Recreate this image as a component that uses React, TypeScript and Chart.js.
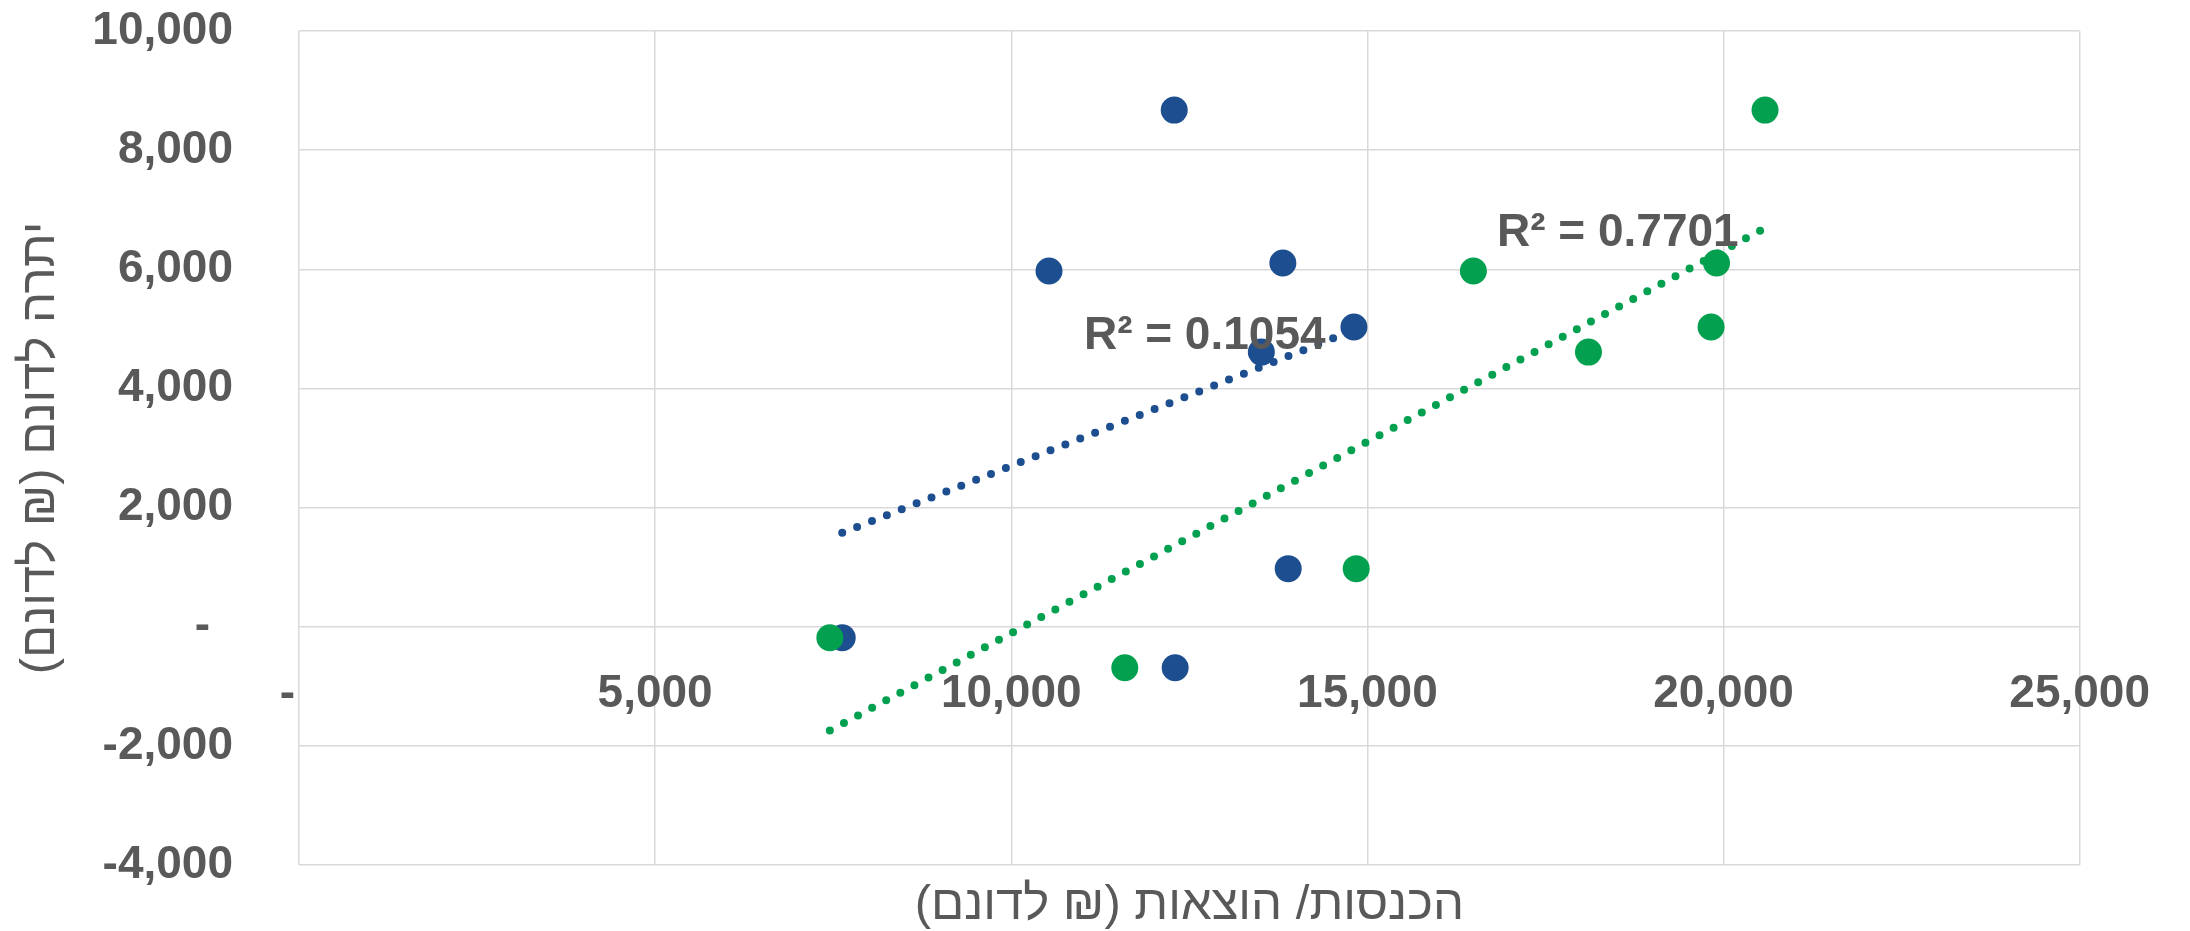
import React, { useEffect, useRef } from 'react';
import { Chart, registerables } from 'chart.js';

Chart.register(...registerables);

// ---- data ----
// expenses (₪ per dunam) – blue series
const expenses = [12288, 10530, 13813, 14811, 13511, 13888, 7627, 12301];
// income (₪ per dunam) – green series
const income = [20583, 16488, 19902, 19825, 18104, 14843, 7453, 11594];
// surplus (₪ per dunam) – shared y values
const surplus = [8672, 5971, 6106, 5030, 4610, 975, -184, -690];

const xTickValues = [0, 5000, 10000, 15000, 20000, 25000];
const xTickLabels = ['-\u2002', '5,000', '10,000', '15,000', '20,000', '25,000'];
const yTickValues = [-4000, -2000, 0, 2000, 4000, 6000, 8000, 10000];
const yTickLabels = ['-4,000', '-2,000', '-\u2002', '2,000', '4,000', '6,000', '8,000', '10,000'];

const r2Labels = ['R² = 0.1054', 'R² = 0.7701'];
const r2LabelX = [11020, 16820];
const r2LabelY = [4670, 6390];

const xTitle = 'הכנסות/ הוצאות (₪ לדונם)';
const yTitle = 'יתרה לדונם (₪ לדונם)';

const BLUE = '#1D4E8F';
const GREEN = '#03A04F';
const TEXT = '#595959';
const GRID = '#D9D9D9';
const FONT = '"Liberation Sans", Arial, sans-serif';

function linFit(xs: number[], ys: number[]) {
  const n = xs.length;
  const mx = xs.reduce((a, b) => a + b, 0) / n;
  const my = ys.reduce((a, b) => a + b, 0) / n;
  let sxy = 0, sxx = 0;
  for (let i = 0; i < n; i++) {
    sxy += (xs[i] - mx) * (ys[i] - my);
    sxx += (xs[i] - mx) * (xs[i] - mx);
  }
  const m = sxy / sxx;
  return { m, b: my - m * mx };
}

function trendPoints(xs: number[], ys: number[]) {
  const f = linFit(xs, ys);
  const lo = Math.min(...xs);
  const hi = Math.max(...xs);
  return [
    { x: lo, y: f.m * lo + f.b },
    { x: hi, y: f.m * hi + f.b },
  ];
}

export default function App() {
  const ref = useRef<HTMLCanvasElement>(null);

  useEffect(() => {
    document.body.style.margin = '0';
    const canvas = ref.current!;

    const textPlugin = {
      id: 'texts',
      afterDraw(chart: any) {
        const c = chart.ctx as CanvasRenderingContext2D;
        const xs = chart.scales.x;
        const ys = chart.scales.y;
        const ca = chart.chartArea;
        c.save();
        c.fillStyle = TEXT;
        c.font = `bold 46px ${FONT}`;
        c.textAlign = 'left';
        c.textBaseline = 'alphabetic';
        r2Labels.forEach((t, i) => {
          c.fillText(t, xs.getPixelForValue(r2LabelX[i]), ys.getPixelForValue(r2LabelY[i]));
        });
        (c as any).direction = 'rtl';
        c.font = `49px ${FONT}`;
        c.textAlign = 'center';
        c.textBaseline = 'middle';
        c.fillText(xTitle, (ca.left + ca.right) / 2, 905);
        c.translate(40, (ca.top + ca.bottom) / 2);
        c.rotate(-Math.PI / 2);
        c.fillText(yTitle, 0, 0);
        c.restore();
      },
    };

    const chart = new Chart(canvas, {
      type: 'scatter',
      data: {
        datasets: [
          {
            label: 'income',
            data: income.map((x, i) => ({ x, y: surplus[i] })),
            backgroundColor: GREEN,
            borderWidth: 0,
            pointRadius: 13.5,
            order: 1,
          },
          {
            label: 'expenses',
            data: expenses.map((x, i) => ({ x, y: surplus[i] })),
            backgroundColor: BLUE,
            borderWidth: 0,
            pointRadius: 13.5,
            order: 2,
          },
          {
            label: 'trend expenses',
            data: trendPoints(expenses, surplus),
            showLine: true,
            borderColor: BLUE,
            borderWidth: 8,
            borderDash: [0, 16],
            borderCapStyle: 'round',
            pointRadius: 0,
            order: 3,
          } as any,
          {
            label: 'trend income',
            data: trendPoints(income, surplus),
            showLine: true,
            borderColor: GREEN,
            borderWidth: 8,
            borderDash: [0, 16],
            borderCapStyle: 'round',
            pointRadius: 0,
            order: 4,
          } as any,
        ],
      },
      options: {
        responsive: false,
        animation: false,
        devicePixelRatio: 1,
        layout: { padding: { left: 0, top: 31, right: 104, bottom: 66 } },
        plugins: { legend: { display: false }, tooltip: { enabled: false } },
        scales: {
          x: {
            type: 'linear',
            position: { y: 0 } as any,
            min: 0,
            max: 25000,
            ticks: {
              stepSize: 5000,
              autoSkip: false,
              maxRotation: 0,
              padding: 40,
              color: TEXT,
              font: { family: FONT, size: 46, weight: 'bold' },
              callback: (v: any) => {
                const i = xTickValues.indexOf(Number(v));
                return i >= 0 ? xTickLabels[i] : '';
              },
            },
            grid: { color: GRID, lineWidth: 1.5, drawTicks: false },
            border: { display: false },
          },
          y: {
            type: 'linear',
            min: -4000,
            max: 10000,
            ticks: {
              stepSize: 2000,
              padding: 66,
              color: TEXT,
              font: { family: FONT, size: 46, weight: 'bold' },
              callback: (v: any) => {
                const i = yTickValues.indexOf(Number(v));
                return i >= 0 ? yTickLabels[i] : '';
              },
            },
            grid: { color: GRID, lineWidth: 1.5, drawTicks: false },
            border: { display: false },
            afterFit: (s: any) => {
              s.width = 299;
              s.paddingTop = 0;
              s.paddingBottom = 0;
            },
          },
        },
      },
      plugins: [textPlugin],
    });

    return () => chart.destroy();
  }, []);

  return (
    <div style={{ width: 2190, height: 931, background: '#fff' }}>
      <canvas ref={ref} width={2190} height={931} style={{ display: 'block' }} />
    </div>
  );
}
